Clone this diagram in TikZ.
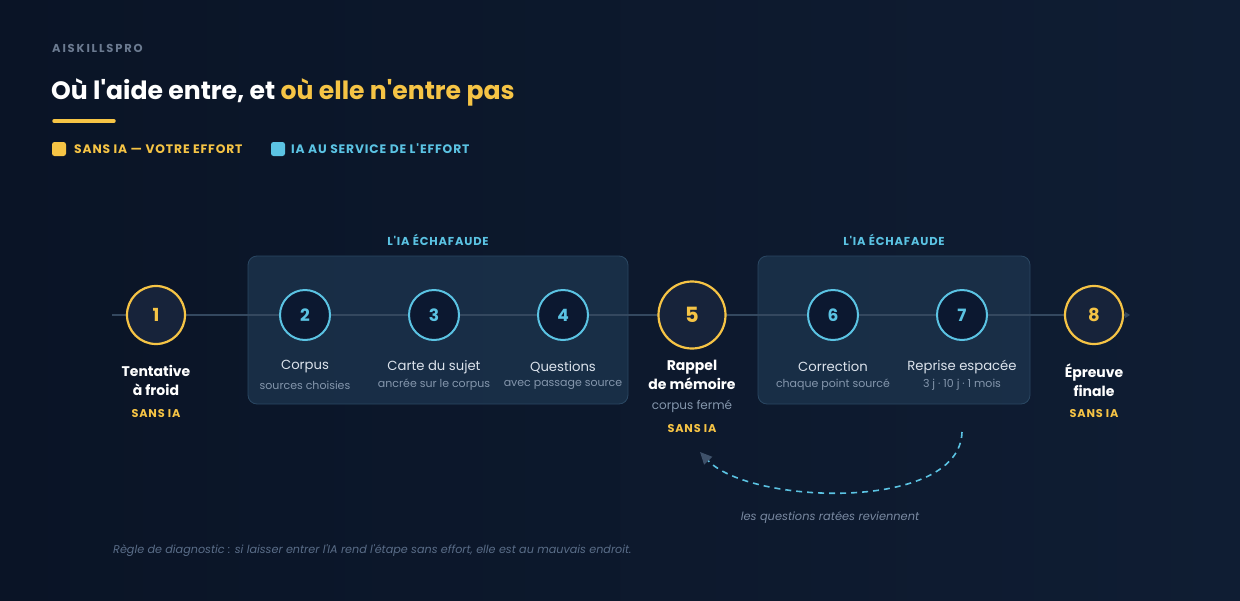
\documentclass[tikz,border=0pt]{standalone}
\usepackage{fontspec}
\setmainfont{Poppins}
\newfontfamily\pop{Poppins}
\newfontfamily\spaced[LetterSpace=16]{Poppins}
\newfontfamily\spacedb[LetterSpace=7]{Poppins}
\usetikzlibrary{arrows.meta}
\definecolor{bgA}{HTML}{0A1426}
\definecolor{bgB}{HTML}{0F1D33}
\definecolor{ylw}{HTML}{F6C445}
\definecolor{cyn}{HTML}{5BC3E3}
\definecolor{cfY}{HTML}{17233A}
\definecolor{cfC}{HTML}{0C1830}
\definecolor{boxf}{HTML}{1B324B}
\definecolor{boxd}{HTML}{2A4762}
\definecolor{linec}{HTML}{34485F}
\definecolor{lblc}{HTML}{DCE3EC}
\definecolor{subc}{HTML}{8496AC}
\definecolor{grayc}{HTML}{6B7A90}
\definecolor{notec}{HTML}{7A8AA2}
\definecolor{footc}{HTML}{5A6D88}
\definecolor{tipc}{HTML}{3E516A}
\begin{document}
\pop
\begin{tikzpicture}[x=1pt,y=-1pt,
  ycirc/.style={circle,draw=ylw,line width=2.2pt,fill=cfY,text=ylw,inner sep=0pt,minimum size=58pt,font=\fontsize{18}{18}\selectfont\bfseries},
  ccirc/.style={circle,draw=cyn,line width=2pt,fill=cfC,text=cyn,inner sep=0pt,minimum size=50pt,font=\fontsize{17}{17}\selectfont\bfseries},
  zone/.style={draw=boxd,line width=0.8pt,fill=boxf,fill opacity=0.85,rounded corners=9pt},
  zonetitle/.style={text=cyn,font=\fontsize{11.5}{11.5}\selectfont\bfseries\spacedb},
  mainlbl/.style={text=lblc,font=\fontsize{13.2}{13.2}\selectfont},
  ymainlbl/.style={text=white,align=center,font=\fontsize{14}{19}\selectfont\bfseries},
  sublbl/.style={text=subc,font=\fontsize{11}{11}\selectfont},
  sans/.style={text=ylw,font=\fontsize{11.3}{11.3}\selectfont\bfseries\spacedb},
  flow/.style={draw=linec,line width=1.2pt},
]
\useasboundingbox (0,0) rectangle (1240,600);
\shade[shading angle=60,left color=bgA,right color=bgB] (0,0) rectangle (1240,600);

% header
\node[anchor=west,text=grayc,inner sep=0pt,font=\fontsize{11.5}{11.5}\selectfont\bfseries\spaced] (brand) at (52,48) {AISKILLSPRO};
\node[anchor=west,inner sep=0pt,text=white,font=\fontsize{25.1}{25.1}\selectfont\bfseries] (title) at (51,92) {Où l'aide entre, et \textcolor{ylw}{où elle n'entre pas}};
\draw[ylw,line width=3.5pt,line cap=round] (54,121) -- (114,121);
\fill[ylw,rounded corners=2.5pt] (52,142) rectangle (66,156);
\node[anchor=west,inner sep=0pt,text=ylw,font=\fontsize{12.3}{12.3}\selectfont\bfseries\spacedb] (leg1) at (74,149) {SANS IA — VOTRE EFFORT};
\fill[cyn,rounded corners=2.5pt] (271,142) rectangle (285,156);
\node[anchor=west,inner sep=0pt,text=cyn,font=\fontsize{12.3}{12.3}\selectfont\bfseries\spacedb] (leg2) at (291,149) {IA AU SERVICE DE L'EFFORT};

% zones
\path[zone] (248,256) rectangle (628,404);
\path[zone] (758,256) rectangle (1030,404);
\node[zonetitle] (z1) at (438,240) {L'IA ÉCHAFAUDE};
\node[zonetitle] (z2) at (894,240) {L'IA ÉCHAFAUDE};

% flow line
\coordinate (ls) at (112,315);
\coordinate (le) at (1130,315);
\draw[flow] (ls) -- (156,315);
\draw[flow] (156,315) -- (1094,315);
\draw[flow,-{Triangle[length=5pt,width=6pt]}] (1094,315) -- (le);

% steps
\node[ycirc] (n1) at (156,315) {1};
\node[ccirc] (n2) at (305,315) {2};
\node[ccirc] (n3) at (434,315) {3};
\node[ccirc] (n4) at (563,315) {4};
\node[ycirc,minimum size=67pt,font=\fontsize{21}{21}\selectfont\bfseries] (n5) at (692,315) {5};
\node[ccirc] (n6) at (833,315) {6};
\node[ccirc] (n7) at (962,315) {7};
\node[ycirc] (n8) at (1094,315) {8};

% labels
\node[ymainlbl] (t1) at (156,380) {Tentative\\à froid};
\node[sans] (s1) at (156,414) {SANS IA};
\node[mainlbl] (t2) at (305,367) {Corpus};
\node[sublbl] (u2) at (305,385) {sources choisies};
\node[mainlbl] (t3) at (434,367) {Carte du sujet};
\node[sublbl] (u3) at (434,385) {ancrée sur le corpus};
\node[mainlbl] (t4) at (563,367) {Questions};
\node[sublbl] (u4) at (563,385) {avec passage source};
\node[ymainlbl] (t5) at (692,375) {Rappel\\de mémoire};
\node[sublbl,font=\fontsize{12}{12}\selectfont] (u5) at (692,406) {corpus fermé};
\node[sans] (s5) at (692,429) {SANS IA};
\node[mainlbl] (t6) at (833,367) {Correction};
\node[sublbl] (u6) at (833,385) {chaque point sourcé};
\node[mainlbl] (t7) at (962,367) {Reprise espacée};
\node[sublbl] (u7) at (962,385) {3 j · 10 j · 1 mois};
\node[ymainlbl] (t8) at (1094,380) {Épreuve\\finale};
\node[sans] (s8) at (1094,414) {SANS IA};

% loop back
\coordinate (rb1) at (962,432);
\coordinate (rb2) at (700,452);
\draw[cyn,line width=1.6pt,dash pattern=on 6pt off 5pt,-{Triangle[length=12pt,width=11pt,color=tipc,fill=tipc]}]
  (rb1) .. controls (960,512) and (750,505) .. (rb2);
\node[text=notec,font=\fontsize{11.4}{11.4}\selectfont\itshape] (note) at (830,518) {les questions ratées reviennent};

% footer
\node[anchor=west,inner sep=0pt,text=footc,font=\fontsize{11.2}{11.2}\selectfont\itshape] (foot) at (113,551) {Règle de diagnostic : si laisser entrer l'IA rend l'étape sans effort, elle est au mauvais endroit.};
\end{tikzpicture}
\end{document}
